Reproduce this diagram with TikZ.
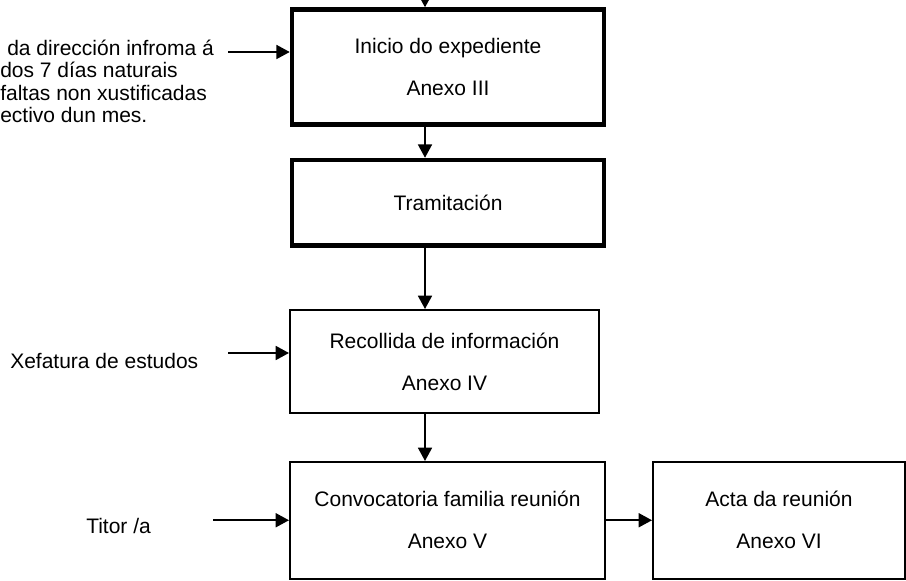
\documentclass[tikz,border=0pt]{standalone}
\usepackage{fontspec}
\setmainfont{Liberation Sans}
\usetikzlibrary{arrows.meta}

\tikzset{
	paso/.style={draw=black, line width=3.4pt, align=center, inner sep=0pt,
		font=\fontsize{15.75}{31.5}\selectfont},
	pasofino/.style={paso, line width=1.5pt},
	frecha/.style={black, line width=1.3pt, -{Triangle[length=10pt, width=10.5pt]}},
	rotulo/.style={font=\fontsize{15.75}{16.9}\selectfont, inner sep=0pt}
}

\begin{document}
\begin{tikzpicture}[x=0.75pt, y=-0.75pt]
	
	% MARCO
	\useasboundingbox (0,0) rectangle (906,581);
	
	% EIXO DAS FRECHAS
	\coordinate (eixo) at (425,0);
	\coordinate (entrada) at (425,-30);
	
	% Pasos con trazo groso
	\node[paso, minimum width=234pt, minimum height=86.25pt] (inicio) at (448,67) {Inicio do expediente\\Anexo III};
	\node[paso, minimum width=234pt, minimum height=64.1pt] (tram) at (448,202.75) {Tramitación};
	
	% Pasos con trazo fino
	\node[pasofino, minimum width=231.75pt, minimum height=77.25pt] (recollida) at (444.5,361.5) {Recollida de información\\Anexo IV};
	\node[pasofino, minimum width=236.25pt, minimum height=87.4pt] (convoc) at (447.5,520.25) {Convocatoria familia reunión\\Anexo V};
	\node[pasofino, minimum width=189pt, minimum height=87.4pt] (acta) at (779,520.25) {Acta da reunión\\Anexo VI};
	
	% Textos da esquerda
	\node[rotulo, align=left, anchor=north west] (aviso) at (0,39.5) {\hspace*{5.25pt}da dirección infroma á\\dos 7 días naturais\\faltas non xustificadas\\ectivo dun mes.};
	\node[rotulo, anchor=base west] (xefatura) at (10,368) {Xefatura de estudos};
	\node[rotulo, anchor=base west] (titor) at (86,533) {Titor /a};
	
	% Orixe das frechas laterais
	\coordinate (de1) at (228,52);
	\coordinate (de2) at (228,353);
	\coordinate (de3) at (213,520.25);
	
	% FRECHAS
	\draw[frecha] (entrada) -- (entrada |- inicio.north);
	\draw[frecha] (inicio.south -| eixo) -- (tram.north -| eixo);
	\draw[frecha] (tram.south -| eixo) -- (recollida.north -| eixo);
	\draw[frecha] (recollida.south -| eixo) -- (convoc.north -| eixo);
	\draw[frecha] (convoc) -- (acta);
	
	\draw[frecha] (de1) -- (de1 -| inicio.west);
	\draw[frecha] (de2) -- (de2 -| recollida.west);
	\draw[frecha] (de3) -- (de3 -| convoc.west);
	
\end{tikzpicture}
\end{document}
